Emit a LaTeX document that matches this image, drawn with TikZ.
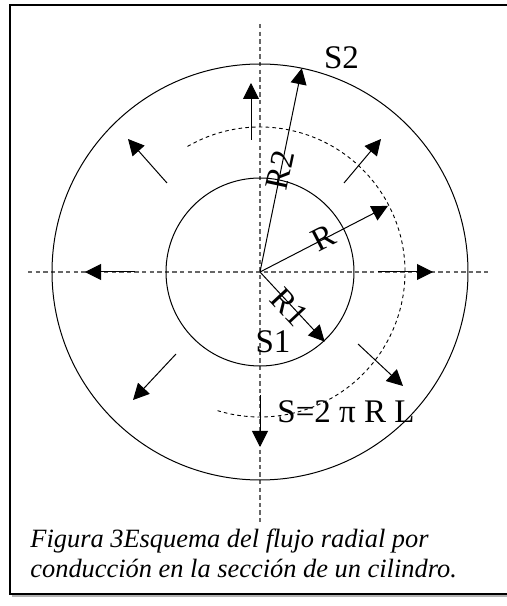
\documentclass[tikz,border=0pt]{standalone}
\usepackage{fontspec}
\setmainfont{Liberation Serif}
\usetikzlibrary{arrows.meta,calc}
\begin{document}
\begin{tikzpicture}[x=0.5pt,y=0.5pt,
  circ/.style={line width=0.5pt},
  axis/.style={gray!80!black,line width=0.6pt,dash pattern=on 2.2pt off 1.6pt},
  surf/.style={line width=0.45pt,dash pattern=on 1.8pt off 1.6pt},
  flux/.style={line width=0.5pt,-{Triangle[length=8pt,width=8pt]}},
  lbl/.style={font=\fontsize{16.5}{19}\selectfont,inner sep=0pt},
  captext/.style={font=\fontsize{13.2}{16}\selectfont\itshape,inner sep=0pt,anchor=base west},
  framel/.style={line width=0.8pt}]
\useasboundingbox (0,0) rectangle (507,606);
% frame
\draw[gray!60,line width=0.8pt] (12,10) -- (507,10);
\draw[framel] (507,601) -- (10,601) -- (10,12) -- (507,12);
\coordinate (O) at (260,334);
% axes
\coordinate (axT) at (260,582);
\coordinate (axB) at (260,81);
\coordinate (axL) at (28,334);
\coordinate (axR) at (488,334);
\draw[axis] (axT) -- (axB);
\draw[axis] (axL) -- (axR);
% circles
\draw[circ] (O) circle[radius=208];
\draw[circ] (O) circle[radius=94];
\draw[surf] ($(O)+(120:145)$) arc[start angle=120,end angle=-107,radius=145];
% radii
\coordinate (r2) at ($(O)+(78.4:208)$);
\coordinate (rr) at ($(O)+(27.3:144)$);
\coordinate (r1) at ($(O)+(-47.1:95)$);
\draw[flux] (O) -- (r2);
\draw[flux] (O) -- (rr);
\draw[flux] (O) -- (r1);
% flux arrows
\coordinate (a1) at (251,466); \coordinate (b1) at (251,523);
\coordinate (a2) at (167,423); \coordinate (b2) at (128,467);
\coordinate (a3) at (344,423); \coordinate (b3) at (381,467);
\coordinate (a4) at (135,334); \coordinate (b4) at (85,334);
\coordinate (a5) at (378,334); \coordinate (b5) at (433,334);
\coordinate (a6) at (176,252); \coordinate (b6) at (133,206);
\coordinate (a7) at (358,262); \coordinate (b7) at (403,220);
\coordinate (a8) at (260,211); \coordinate (b8) at (260,159);
\foreach \i in {1,...,8} {\draw[flux] (a\i) -- (b\i);}
% labels
\node[lbl] (s2) at (341.5,548) {S2};
\node[lbl] (s1) at (273,264) {S1};
\node[lbl,anchor=base west] (s) at (277,183) {S=2 π R L};
\node[lbl,rotate=78] (lr2) at (280,436) {R2};
\node[lbl,rotate=27] (lr) at (323,368) {R};
\node[lbl,rotate=-47] (lr1) at (290,299) {R1};
% caption
\node[captext] (c1) at (30,58) {Figura 3Esquema del flujo radial por};
\node[captext] (c2) at (30,28) {conducción en la sección de un cilindro.};
\end{tikzpicture}
\end{document}
